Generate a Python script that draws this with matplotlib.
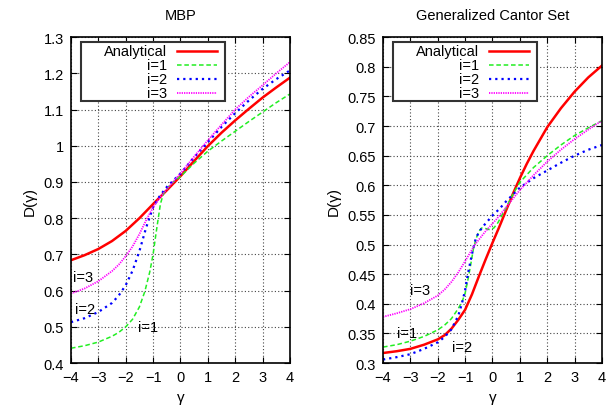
import matplotlib
matplotlib.use("Agg")
import matplotlib.pyplot as plt
from matplotlib.patches import Rectangle

plt.rcParams['font.family'] = ['Liberation Sans', 'DejaVu Sans']
plt.rcParams['font.size'] = 10.5

# MBP panel
mbp_x_an = [-4, -3.5, -3, -2.5, -2, -1.5, -1, -0.5, 0, 0.5, 1, 1.5, 2, 2.5, 3, 3.5, 4]
mbp_an = [0.684, 0.698, 0.715, 0.737, 0.765, 0.800, 0.839, 0.877, 0.916, 0.958, 0.999, 1.036, 1.07, 1.102, 1.133, 1.161, 1.188]

mbp_x_i1 = [-4, -3.5, -3, -2.5, -2.25, -2, -1.75, -1.5, -1.3, -1.12, -1.0, -0.9, -0.81, -0.73, -0.62, -0.45, -0.25, 0,
            0.5, 1, 1.5, 2, 2.5, 3, 3.5, 4]
mbp_i1 = [0.441, 0.448, 0.458, 0.474, 0.485, 0.50, 0.521, 0.555, 0.598, 0.652, 0.70, 0.754, 0.80, 0.84, 0.868, 0.886, 0.901, 0.915,
          0.952, 0.985, 1.013, 1.04, 1.067, 1.093, 1.119, 1.143]

mbp_x_i2 = [-4, -3.5, -3, -2.5, -2.25, -2, -1.75, -1.5, -1.25, -1, -0.75, -0.5, -0.25, 0,
            0.5, 1, 1.5, 2, 2.5, 3, 3.5, 4]
mbp_i2 = [0.513, 0.524, 0.541, 0.566, 0.587, 0.615, 0.655, 0.709, 0.775, 0.83, 0.862, 0.886, 0.905, 0.923,
          0.968, 1.01, 1.052, 1.09, 1.125, 1.157, 1.184, 1.208]

mbp_x_i3 = [-4, -3.5, -3, -2.5, -2.25, -2, -1.75, -1.5, -1.25, -1, -0.75, -0.5, -0.25, 0,
            0.5, 1, 1.5, 2, 2.5, 3, 3.5, 4]
mbp_i3 = [0.592, 0.606, 0.626, 0.654, 0.672, 0.695, 0.722, 0.756, 0.795, 0.83, 0.857, 0.88, 0.902, 0.924,
          0.97, 1.015, 1.058, 1.10, 1.135, 1.167, 1.2, 1.231]

# Generalized Cantor set panel
gcs_x_an = [-4, -3.5, -3, -2.5, -2, -1.75, -1.5, -1.25, -1, -0.75, -0.5, -0.25, 0, 0.25, 0.5, 0.75, 1, 1.25, 1.5,
            2, 2.5, 3, 3.5, 4]
gcs_an = [0.317, 0.320, 0.324, 0.331, 0.340, 0.347, 0.358, 0.373, 0.390, 0.416, 0.446, 0.475, 0.503, 0.530, 0.558,
          0.586, 0.612, 0.636, 0.658, 0.698, 0.73, 0.758, 0.782, 0.802]

gcs_x_i1 = [-4, -3.5, -3, -2.5, -2, -1.75, -1.5, -1.25, -1.1, -1, -0.9, -0.8, -0.7, -0.6, -0.5, -0.4, -0.25, -0.1,
            0.05, 0.2, 0.35, 0.5, 0.75, 1, 1.5, 2, 2.5, 3, 3.5, 4]
gcs_i1 = [0.327, 0.331, 0.337, 0.345, 0.356, 0.364, 0.375, 0.392, 0.405, 0.418, 0.44, 0.465, 0.492, 0.51, 0.522,
          0.528, 0.527, 0.525, 0.528, 0.537, 0.55, 0.562, 0.585, 0.605, 0.63, 0.65, 0.668, 0.684, 0.697, 0.709]

gcs_x_i2 = [-4, -3.5, -3, -2.5, -2, -1.75, -1.5, -1.25, -1.12, -1, -0.9, -0.8, -0.7, -0.6, -0.45, -0.3, -0.15, 0,
            0.25, 0.5, 1, 1.5, 2, 2.5, 3, 3.5, 4]
gcs_i2 = [0.306, 0.31, 0.315, 0.324, 0.335, 0.344, 0.357, 0.38, 0.40, 0.423, 0.45, 0.473, 0.494, 0.512, 0.524, 0.533,
          0.541, 0.549, 0.56, 0.573, 0.596, 0.612, 0.625, 0.638, 0.65, 0.66, 0.668]

gcs_x_i3 = [-4, -3.5, -3, -2.5, -2, -1.75, -1.5, -1.25, -1, -0.64, -0.28, 0.15, 0.5, 1, 1.5, 2, 2.5, 3, 3.5, 4]
gcs_i3 = [0.378, 0.384, 0.391, 0.401, 0.414, 0.424, 0.437, 0.453, 0.472, 0.50, 0.521, 0.543, 0.563, 0.592, 0.617,
          0.64, 0.66, 0.678, 0.694, 0.709]

labels = ["Analytical", "i=1", "i=2", "i=3"]
colors = ["#ff0000", "#22ee22", "#0000ff", "#ff00ff"]
styles = [dict(ls="-", lw=1.8),
          dict(ls=(0, (3, 1.8)), lw=1.1),
          dict(ls=(0, (1, 1.8)), lw=1.6),
          dict(ls=(0, (0.7, 0.6)), lw=1.3)]


def draw_panel(ax, series, title, ylim, yticks, ylabels, notes):
    for (xs, ys), c, st in zip(series, colors, styles):
        ax.plot(xs, ys, color=c, **st)
    ax.set_xlim(-4, 4)
    ax.set_ylim(*ylim)
    ax.set_xticks(range(-4, 5))
    ax.set_xticklabels(["\u22124", "\u22123", "\u22122", "\u22121", "0", "1", "2", "3", "4"])
    ax.set_yticks(yticks)
    ax.set_yticklabels(ylabels)
    ax.grid(True, color="#444444", ls=(0, (1, 2)), lw=0.8)
    ax.tick_params(direction="in", top=True, right=True, length=4, width=0.8, pad=5)
    for sp in ax.spines.values():
        sp.set_linewidth(1.2)
    ax.set_title(title, fontsize=10.5, pad=13)
    ax.set_xlabel("\u03b3", fontsize=11, labelpad=4)
    ax.set_ylabel("D(\u03b3)", fontsize=11, labelpad=5)
    for txt, x, y in notes:
        ax.text(x, y, txt, ha="center", va="center", fontsize=10.5)

    # gnuplot style key: right-aligned text, sample line on the right
    ax.add_patch(Rectangle((0.045, 0.805), 0.66, 0.18, transform=ax.transAxes,
                           facecolor="white", edgecolor="#333333", lw=1.5, zorder=5))
    rows = [0.958, 0.915, 0.871, 0.828]
    for lab, c, st, ry in zip(labels, colors, styles, rows):
        ax.text(0.44, ry, lab, transform=ax.transAxes, ha="right", va="center",
                fontsize=10.5, zorder=6)
        ax.plot([0.484, 0.665], [ry, ry], transform=ax.transAxes, color=c, zorder=6, **st)


fig = plt.figure(figsize=(6.15, 4.10), dpi=100)
ax1 = fig.add_axes([0.1154, 0.112, 0.356, 0.795])
ax2 = fig.add_axes([0.6228, 0.112, 0.356, 0.795])

draw_panel(ax1,
           [(mbp_x_an, mbp_an), (mbp_x_i1, mbp_i1), (mbp_x_i2, mbp_i2), (mbp_x_i3, mbp_i3)],
           "MBP", (0.4, 1.3),
           [0.4, 0.5, 0.6, 0.7, 0.8, 0.9, 1.0, 1.1, 1.2, 1.3],
           ["0.4", "0.5", "0.6", "0.7", "0.8", "0.9", "1", "1.1", "1.2", "1.3"],
           [("i=3", -3.55, 0.637), ("i=2", -3.5, 0.549), ("i=1", -1.19, 0.50)])

draw_panel(ax2,
           [(gcs_x_an, gcs_an), (gcs_x_i1, gcs_i1), (gcs_x_i2, gcs_i2), (gcs_x_i3, gcs_i3)],
           "Generalized Cantor Set", (0.3, 0.85),
           [0.3, 0.35, 0.4, 0.45, 0.5, 0.55, 0.6, 0.65, 0.7, 0.75, 0.8, 0.85],
           ["0.3", "0.35", "0.4", "0.45", "0.5", "0.55", "0.6", "0.65", "0.7", "0.75", "0.8", "0.85"],
           [("i=3", -2.64, 0.423), ("i=1", -3.12, 0.350), ("i=2", -1.11, 0.327)])

fig.savefig("out.png", dpi=100)
